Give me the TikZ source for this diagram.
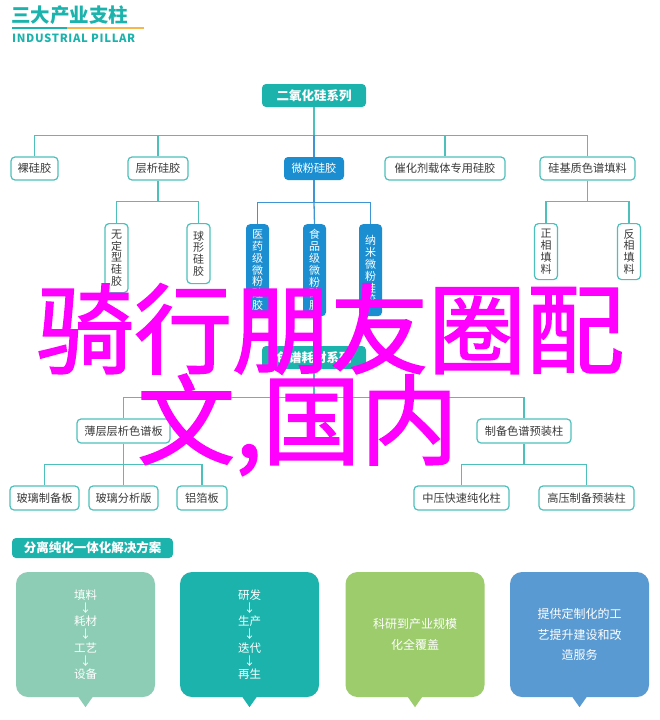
\documentclass[tikz,border=0pt]{standalone}
\usepackage{fontspec}
\newfontfamily\cjk{Noto Sans CJK SC}
\newfontfamily\cjkheavy[FakeBold=1.6]{Noto Sans CJK SC}
\newfontfamily\cjksp[LetterSpace=6]{Noto Sans CJK SC}
\definecolor{tealc}{HTML}{1DB3AD}
\definecolor{wirec}{HTML}{4DC0BB}
\definecolor{bluec}{HTML}{1A8ED0}
\definecolor{bluewirec}{HTML}{3F95D4}
\definecolor{orangec}{HTML}{F7B84B}
\definecolor{txtc}{HTML}{3A3A3A}
\definecolor{mintc}{HTML}{8DCDB5}
\definecolor{greenc}{HTML}{9CCC6C}
\definecolor{skyc}{HTML}{5A9AD2}
\definecolor{magc}{HTML}{FF00FF}
\begin{document}
\begin{tikzpicture}[x=1pt,y=-1pt,
  rootnode/.style={fill=tealc, rounded corners=4pt, inner sep=0pt, minimum height=23pt, text=white, font=\cjk\bfseries\fontsize{12.5}{13}\selectfont},
  lvnode/.style={draw=wirec, line width=1.2pt, fill=white, rounded corners=4pt, inner sep=0pt, minimum height=23pt, text=txtc, font=\cjk\fontsize{11.2}{12}\selectfont},
  bluenode/.style={fill=bluec, rounded corners=4pt, inner sep=0pt, minimum height=23pt, text=white, font=\cjk\fontsize{11.2}{12}\selectfont},
  vnode/.style={draw=wirec, line width=1.2pt, fill=white, rounded corners=4pt, inner sep=0pt, minimum width=23pt, anchor=north, align=center, text=txtc, font=\cjk\fontsize{11}{11.8}\selectfont},
  vbluenode/.style={fill=bluec, rounded corners=4pt, inner sep=0pt, minimum width=23pt, anchor=north, align=center, text=white, font=\cjk\fontsize{11}{11.8}\selectfont},
  wire/.style={draw=wirec, line width=1.3pt},
  bluewire/.style={draw=bluewirec, line width=1.3pt},
  card/.style={rounded corners=12pt, inner sep=0pt, minimum width=139pt, minimum height=125pt, align=center, text=white},
]
\path[fill=white] (0,0) rectangle (660,720);

% header
\node[anchor=base west, inner sep=0pt, font=\cjk\bfseries\fontsize{19.5}{20}\selectfont, text=tealc] (title) at (11,22) {三大产业支柱};
\draw[tealc, line width=2pt] (12,28) -- (67,28);
\draw[orangec, line width=2pt] (67,28) -- (144,28);
\node[anchor=base west, inner sep=0pt, font=\cjksp\bfseries\fontsize{11.3}{12}\selectfont, text=tealc] (subtitle) at (12,42) {INDUSTRIAL PILLAR};

% tree 1
\node[rootnode, minimum width=104pt] (root) at (314,95.5) {二氧化硅系列};
\node[lvnode, minimum width=47pt] (n1) at (34.5,168.5) {裸硅胶};
\node[lvnode, minimum width=60pt] (n2) at (158,168.5) {层析硅胶};
\node[bluenode, minimum width=60pt] (n3) at (314,168.5) {微粉硅胶};
\node[lvnode, minimum width=120pt] (n4) at (445,168.5) {催化剂载体专用硅胶};
\node[lvnode, minimum width=95pt] (n5) at (587.5,168.5) {硅基质色谱填料};

\node[vnode, minimum height=69pt] (a1) at (116.5,223) {无\\定\\型\\硅\\胶};
\node[vnode, minimum height=60pt] (a2) at (198.5,223) {球\\形\\硅\\胶};
\node[vbluenode, minimum height=92pt] (b1) at (257.5,224) {医\\药\\级\\微\\粉\\硅\\胶};
\node[vbluenode, minimum height=92pt] (b2) at (314.5,224) {食\\品\\级\\微\\粉\\硅\\胶};
\node[vbluenode, minimum height=92pt] (b3) at (370.5,224) {纳\\米\\微\\粉\\硅\\胶};
\node[vnode, minimum height=56pt] (c1) at (546,223) {正\\相\\填\\料};
\node[vnode, minimum height=56pt] (c2) at (629,223) {反\\相\\填\\料};

\draw[wire] (root.south) -- ++(0,28);
\draw[wire] (root.south) ++(0,28) -| (n1.north);
\draw[wire] (root.south) ++(0,28) -| (n2.north);
\draw[wire] (root.south) ++(0,28) -| (n4.north);
\draw[wire] (root.south) ++(0,28) -| (n5.north);
\draw[bluewire] (n3.north) -- ++(0,-22);
\draw[wire] (n2.south) -- ++(0,21) -| (a1.north);
\draw[wire] (n2.south) ++(0,21) -| (a2.north);
\draw[bluewire] (n3.south) -- ++(0,22) -| (b1.north);
\draw[bluewire] (n3.south) ++(0,22) -- (b2.north);
\draw[bluewire] (n3.south) ++(0,22) -| (b3.north);
\draw[wire] (n5.south) -- ++(0,21) -| (c1.north);
\draw[wire] (n5.south) ++(0,21) -| (c2.north);

% tree 2
\node[rootnode, minimum width=104pt] (r2) at (314,357.5) {色谱耗材系列};
\node[lvnode, minimum width=93pt, minimum height=24pt] (p1) at (123.5,431) {薄层层析色谱板};
\node[lvnode, minimum width=94pt, minimum height=24pt] (p2) at (524,431) {制备色谱预装柱};
\node[lvnode, minimum width=69pt, minimum height=24pt] (q1) at (44.5,498) {玻璃制备板};
\node[lvnode, minimum width=69pt, minimum height=24pt] (q2) at (123.5,498) {玻璃分析版};
\node[lvnode, minimum width=50pt, minimum height=24pt] (q3) at (202,498) {铝箔板};
\node[lvnode, minimum width=95pt, minimum height=24pt] (q4) at (461.5,498) {中压快速纯化柱};
\node[lvnode, minimum width=95pt, minimum height=24pt] (q5) at (586.5,498) {高压制备预装柱};

\draw[wire] (r2.south) -- ++(0,28) -| (p1.north);
\draw[wire] (r2.south) ++(0,28) -| (p2.north);
\draw[wire] (p1.south) -- ++(0,21) -| (q1.north);
\draw[wire] (p1.south) ++(0,21) -- (q2.north);
\draw[wire] (p1.south) ++(0,21) -| (q3.north);
\draw[wire] (p2.south) -- ++(0,21) -| (q4.north);
\draw[wire] (p2.south) ++(0,21) -| (q5.north);

% bottom section
\node[fill=tealc, rounded corners=4pt, inner sep=0pt, minimum width=161pt, minimum height=20pt, text=white, font=\cjk\bfseries\fontsize{12.5}{13}\selectfont] (sol) at (92.5,548) {分离纯化一体化解决方案};

\node[card, fill=mintc, font=\cjk\fontsize{11.5}{13.2}\selectfont] (k1) at (85.5,634.5) {填料\\↓\\耗材\\↓\\工艺\\↓\\设备};
\node[card, fill=tealc, font=\cjk\fontsize{11.5}{13.2}\selectfont] (k2) at (249.5,634.5) {研发\\↓\\生产\\↓\\迭代\\↓\\再生};
\node[card, fill=greenc, font=\cjk\fontsize{12}{21}\selectfont] (k3) at (415,634.5) {科研到产业规模\\化全覆盖};
\node[card, fill=skyc, font=\cjk\fontsize{12}{20.5}\selectfont] (k4) at (579.5,634.5) {提供定制化的工\\艺提升建设和改\\造服务};
\fill[mintc] ([xshift=-7pt]k1.south) -- ([yshift=-10pt]k1.south) -- ([xshift=7pt]k1.south) -- cycle;
\fill[tealc] ([xshift=-7pt]k2.south) -- ([yshift=-10pt]k2.south) -- ([xshift=7pt]k2.south) -- cycle;
\fill[greenc] ([xshift=-7pt]k3.south) -- ([yshift=-10pt]k3.south) -- ([xshift=7pt]k3.south) -- cycle;
\fill[skyc] ([xshift=-7pt]k4.south) -- ([yshift=-10pt]k4.south) -- ([xshift=7pt]k4.south) -- cycle;

% overlay text
\node[anchor=base west, inner sep=0pt, text=magc, font=\cjkheavy\fontsize{98}{98}\selectfont] (big1) at (36,366) {骑行朋友圈配};
\node[anchor=base west, inner sep=0pt, text=magc, font=\cjkheavy\fontsize{98}{98}\selectfont] (big2) at (137,457) {文,国内};
\end{tikzpicture}
\end{document}
